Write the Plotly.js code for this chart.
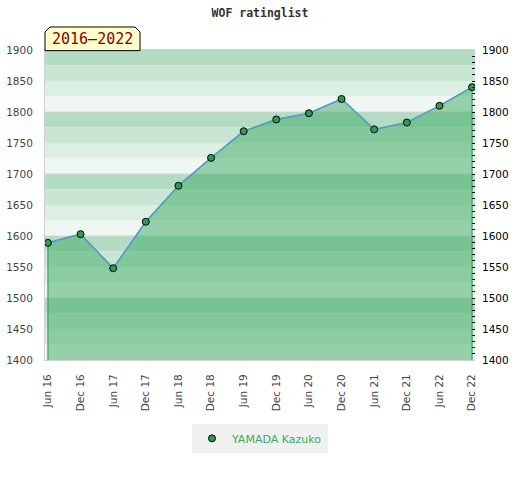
<!DOCTYPE html>
<html>
<head>
<meta charset="utf-8">
<script src="https://cdn.plot.ly/plotly-3.0.1.min.js"></script>
<style>html,body{margin:0;padding:0;background:#fff;}#chart{width:520px;height:480px;}</style>
</head>
<body>
<div id="chart"></div>
<script>
// ---- data ----
var periods = ["Jun 16","Dec 16","Jun 17","Dec 17","Jun 18","Dec 18","Jun 19","Dec 19","Jun 20","Dec 20","Jun 21","Dec 21","Jun 22","Dec 22"];
var ratings = [1589, 1603, 1548, 1623, 1681, 1726, 1769, 1788, 1798, 1821, 1772, 1783, 1810, 1840];
var playerName = "YAMADA Kazuko";
var chartTitle = "WOF ratinglist";
var periodLabel = "2016\u20132022";
var yMin = 1400, yMax = 1900;

// ---- derived ----
var idx = periods.map(function(_, i){ return i; });
var last = idx.length - 1;

var bandColors = ["#b3dcc2", "#c8e6d3", "#dcefe3", "#f0f7f2"];
var shapes = [];
var k = 0;
for (var t = yMax; t > yMin; t -= 25) {
  shapes.push({type:"rect", layer:"below", xref:"paper", yref:"y", x0:0, x1:1, y0:t-25, y1:t,
               fillcolor: bandColors[k % 4], line:{width:0}});
  k++;
}
for (var g = yMin + 100; g < yMax; g += 100) {
  shapes.push({type:"line", layer:"below", xref:"paper", yref:"y", x0:0, x1:1, y0:g, y1:g,
               line:{color:"#d6d6d6", width:1}});
}
// period box with chamfered top corners (paper coords)
shapes.push({type:"path", xref:"paper", yref:"paper",
  path:"M 0,0.998 L 0,1.058 L 0.0116,1.0742 L 0.2093,1.0742 L 0.2209,1.058 L 0.2209,0.998 Z",
  fillcolor:"#ffffcc", line:{color:"#000", width:1}});

var areaX = [0].concat(idx, [last]);
var areaY = [yMin].concat(ratings, [yMin]);

var traces = [
  {x: areaX, y: areaY, type:"scatter", mode:"lines", fill:"toself",
   fillcolor:"rgba(60,170,100,0.5)", line:{color:"#2ea85a", width:1.2},
   showlegend:false, hoverinfo:"skip"},
  {x: idx, y: ratings, type:"scatter", mode:"lines",
   line:{color:"#5b9bd5", width:1.5}, showlegend:false},
  {x: idx, y: ratings, type:"scatter", mode:"markers", name: playerName,
   marker:{color:"#2e9b57", size:7, line:{color:"#000", width:1}}},
  {x: [null], y: [null], yaxis:"y2", type:"scatter", mode:"markers", showlegend:false, hoverinfo:"skip"}
];

var axisFont = {family:"DejaVu Sans", size:10.5, color:"#444"};

var layout = {
  width:520, height:480,
  margin:{l:45, r:45, t:50, b:120, pad:0},
  paper_bgcolor:"#fff", plot_bgcolor:"rgba(0,0,0,0)",
  title:{text: chartTitle, x:0.5, xanchor:"center", y:1-13/480, yanchor:"middle",
         font:{family:"DejaVu Sans Mono", size:11.5, color:"#333", weight:"bold"}},
  xaxis:{range:[-0.09, last+0.09], tickmode:"array", tickvals: idx, ticktext: periods,
         tickangle:-90, ticks:"", showgrid:false, zeroline:false,
         showline:true, linecolor:"#d0d0d0", linewidth:1, mirror:true,
         tickfont: axisFont, ticklabelstandoff:9, fixedrange:true},
  yaxis:{range:[yMin, yMax], dtick:50, ticks:"", showgrid:false, zeroline:false,
         showline:true, linecolor:"#d0d0d0", linewidth:1,
         tickfont: axisFont, ticklabelstandoff:9, fixedrange:true},
  yaxis2:{range:[yMin, yMax], dtick:50, overlaying:"y", side:"right",
          ticks:"inside", ticklen:3, tickcolor:"#000", tickwidth:1,
          minor:{dtick:10, ticks:"inside", ticklen:3, tickcolor:"#000", tickwidth:1},
          showgrid:false, zeroline:false, showline:false,
          tickfont:{family:"DejaVu Sans", size:10.5, color:"#000"}, ticklabelstandoff:6, fixedrange:true},
  shapes: shapes,
  annotations:[{text: periodLabel, xref:"paper", yref:"paper", x:0.1105, y:1.037,
                xanchor:"center", yanchor:"middle", showarrow:false,
                font:{family:"DejaVu Sans Mono", size:15, color:"#8b0000"}}],
  showlegend:true,
  legend:{orientation:"h", x:0.5, xanchor:"center", y:-0.206, yanchor:"top",
          bgcolor:"#f0f0f0", font:{family:"DejaVu Sans", size:11, color:"#3daa5c"},
          itemwidth:30}
};

Plotly.newPlot("chart", traces, layout, {displayModeBar:false, staticPlot:true});
</script>
</body>
</html>
